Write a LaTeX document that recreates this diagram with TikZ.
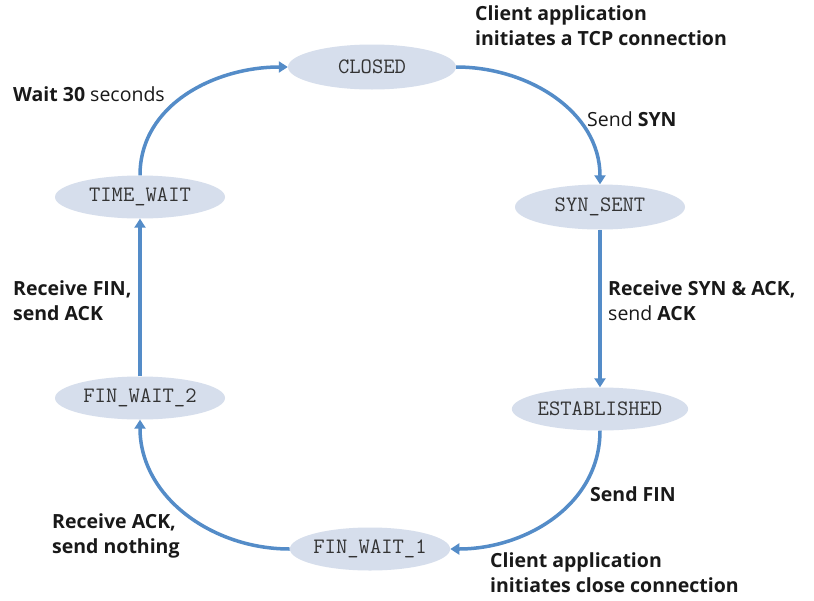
\documentclass[tikz,border=0pt]{standalone}
\usepackage{fontspec}
\setmainfont{Open Sans}
\usetikzlibrary{shapes.geometric,arrows.meta}
\definecolor{arrowblue}{RGB}{84,140,200}
\definecolor{statefill}{RGB}{214,222,236}
\definecolor{labeltext}{RGB}{25,25,25}
\tikzset{
  state/.style={ellipse, fill=statefill, draw=none, inner sep=0pt,
    minimum width=170pt, minimum height=45pt,
    font=\ttfamily\fontsize{22}{24}\selectfont, text=black!80},
  trans/.style={draw=arrowblue, line width=3.5pt,
    -{Triangle[width=11pt,length=9pt]}},
  lbl/.style={font=\fontsize{19.5}{25}\selectfont, text=labeltext, align=left, inner sep=0pt}
}
\begin{document}
\begin{tikzpicture}[x=1pt,y=-1pt]
\useasboundingbox[fill=white] (0,0) rectangle (814,600);
\node[state, minimum width=168pt] (closed) at (372,67) {CLOSED};
\node[state] (synsent) at (600,207) {SYN\_SENT};
\node[state, minimum width=172pt, minimum height=43pt] (est) at (600,409) {ESTABLISHED};
\node[state, minimum width=160pt, minimum height=43pt] (fw1) at (370,549) {FIN\_WAIT\_1};
\node[state, minimum height=43pt] (fw2) at (140,398) {FIN\_WAIT\_2};
\node[state, minimum height=43pt] (tw) at (140,197) {TIME\_WAIT};

\draw[trans] (closed.east) to[out=0,in=90,looseness=1.0] (synsent.north);
\draw[trans] (synsent.south) -- (est.north);
\draw[trans] (est.south) to[out=-90,in=0,looseness=1.0] (fw1.east);
\draw[trans] (fw1.west) to[out=180,in=-90,looseness=1.0] (fw2.south);
\draw[trans] (fw2.north) -- (tw.south);
\draw[trans] (tw.north) to[out=90,in=180,looseness=1.0] (closed.west);

\node[lbl, anchor=north west] (l1) at (475,5) {\textbf{Client application}\\\textbf{initiates a TCP connection}};
\node[lbl, anchor=west] (l2) at (587,119) {Send \textbf{SYN}};
\node[lbl, anchor=west] (l3) at (13,94) {\textbf{Wait 30} seconds};
\node[lbl, anchor=north west] (l4) at (608,280) {\textbf{Receive SYN \& ACK,}\\send \textbf{ACK}};
\node[lbl, anchor=north west] (l5) at (13,280) {\textbf{Receive FIN,}\\\textbf{send ACK}};
\node[lbl, anchor=west] (l6) at (590,494) {\textbf{Send FIN}};
\node[lbl, anchor=north west] (l7) at (52,513) {\textbf{Receive ACK,}\\\textbf{send nothing}};
\node[lbl, anchor=north west] (l8) at (490,552) {\textbf{Client application}\\\textbf{initiates close connection}};
\end{tikzpicture}
\end{document}
